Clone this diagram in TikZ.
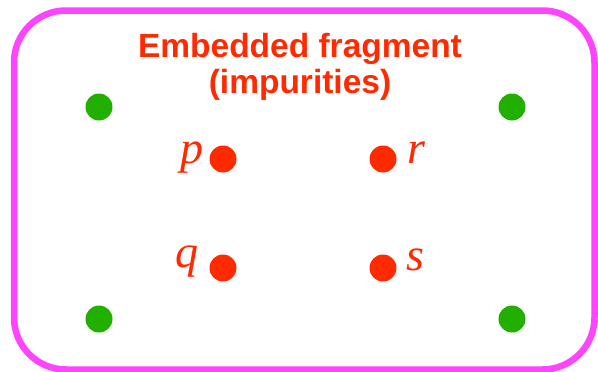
\documentclass[tikz,border=0pt]{standalone}
\usepackage{fontspec}
\setmainfont{Liberation Serif}
\newfontfamily\titlefont{Liberation Sans}
\usetikzlibrary{positioning}

\definecolor{framepink}{RGB}{255,68,255}
\definecolor{impred}{RGB}{255,42,0}
\definecolor{hostgreen}{RGB}{34,176,0}

\tikzset{
  hostdot/.style={circle, fill=hostgreen, inner sep=0pt, minimum size=27pt},
  impdot/.style={circle, fill=impred, inner sep=0pt, minimum size=27pt},
  sitelabel/.style={anchor=base, text=impred, font=\fontsize{46}{46}\selectfont\itshape},
  titleline/.style={anchor=base, text=impred, font=\titlefont\bfseries\fontsize{33.5}{33.5}\selectfont}
}

\begin{document}
\begin{tikzpicture}[x=1pt, y=-1pt]
    \useasboundingbox (0,0) rectangle (598,372);

    % Rahmen
    \draw[framepink, line width=6.5pt, rounded corners=52pt] (14,10.5) rectangle (594.5,369.5);

    % Titel
    \node[titleline] (title1) at (300,57) {Embedded fragment};
    \node[titleline] (title2) at (300,93) {(impurities)};

    % Wirtsatome
    \node[hostdot] (g1) at (99,107) {};
    \node[hostdot] (g2) at (512,107) {};
    \node[hostdot] (g3) at (99,319) {};
    \node[hostdot] (g4) at (512,319) {};

    % Fremdatome
    \node[impdot] (p) at (223,159) {};
    \node[impdot] (r) at (383,159) {};
    \node[impdot] (q) at (223,268) {};
    \node[impdot] (s) at (383,268) {};

    \node[sitelabel] (plab) at (192,163) {p};
    \node[sitelabel] (rlab) at (416,163) {r};
    \node[sitelabel] (qlab) at (187,267) {q};
    \node[sitelabel] (slab) at (415,270) {s};
\end{tikzpicture}
\end{document}
